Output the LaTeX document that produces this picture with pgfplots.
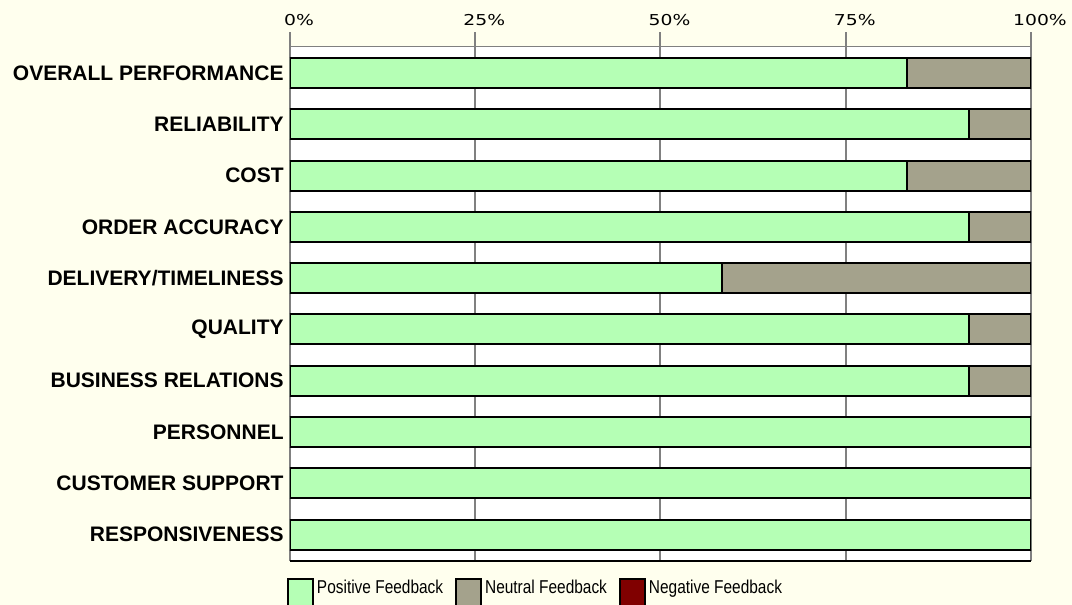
\documentclass[border=0pt]{standalone}
\usepackage{pgfplots}
\pgfplotsset{compat=1.18}
\usepackage{fontspec}
\setmainfont{Liberation Sans}
\newfontfamily\tickfont[FakeStretch=1.25]{DejaVu Sans}
\newfontfamily\legfont[FakeStretch=0.83]{Liberation Sans}
\definecolor{bgc}{RGB}{255,255,238}
\definecolor{posc}{RGB}{181,255,181}
\definecolor{neuc}{RGB}{164,162,140}
\definecolor{negc}{RGB}{128,0,0}
\definecolor{gridc}{RGB}{128,128,128}
\begin{document}
\begin{tikzpicture}
\useasboundingbox (0,0) rectangle (536pt,302.5pt);
\fill[bgc] (0,0) rectangle (536pt,302.5pt);
\clip (0,0) rectangle (536pt,302.5pt);
\begin{axis}[
  at={(145pt,22pt)}, anchor=south west,
  scale only axis, width=370.5pt, height=257.25pt,
  xbar stacked, bar width=15pt,
  xmin=0, xmax=100, ymin=-0.515, ymax=9.515,
  y dir=reverse,
  ytick={0,1,2,3,4,5,6,7,8,9},
  yticklabels={OVERALL PERFORMANCE, RELIABILITY, COST, ORDER ACCURACY, DELIVERY/TIMELINESS, QUALITY, BUSINESS RELATIONS, PERSONNEL, CUSTOMER SUPPORT, RESPONSIVENESS},
  yticklabel style={font=\fontsize{10.5}{12}\selectfont\bfseries, inner sep=0pt, xshift=4pt, anchor=east},
  ytick style={draw=none},
  xtick={0,25,50,75,100},
  xticklabels={0\%,25\%,50\%,75\%,100\%},
  xtick pos=right, xticklabel pos=right,
  tick align=outside,
  major tick length=7pt,
  xtick style={draw=gridc, line width=1pt},
  xticklabel style={font=\tickfont\fontsize{7.5}{8}\selectfont, inner sep=0pt, anchor=south, xshift=4.5pt, yshift=3pt},
  xmajorgrids, grid style={draw=gridc, line width=1pt},
  axis line style={draw=none},
  axis background/.style={fill=white},
  legend columns=3,
  legend style={draw=none, fill=none, inner sep=0pt, outer sep=0pt,
    at={(axis description cs:0,0)}, anchor=north west, xshift=-1.5pt, yshift=-8.5pt,
    font=\legfont\fontsize{9.3}{10}\selectfont, cells={anchor=base west},
    nodes={inner sep=0pt},
    /tikz/every odd column/.append style={column sep=1.5pt},
    /tikz/every even column/.append style={column sep=6pt}},
  legend image code/.code={\filldraw[#1, line width=1pt] (0pt,-14pt) rectangle (12.5pt,7.25pt);},
]
\addplot[fill=posc, draw=black, line width=1pt] coordinates {
  (83.33,0) (91.67,1) (83.33,2) (91.67,3) (58.33,4) (91.67,5) (91.67,6) (100,7) (100,8) (100,9)};
\addplot[fill=neuc, draw=black, line width=1pt] coordinates {
  (16.67,0) (8.33,1) (16.67,2) (8.33,3) (41.67,4) (8.33,5) (8.33,6) (0,7) (0,8) (0,9)};
\addplot[fill=negc, draw=black, line width=1pt] coordinates {
  (0,0) (0,1) (0,2) (0,3) (0,4) (0,5) (0,6) (0,7) (0,8) (0,9)};
\legend{Positive Feedback, Neutral Feedback, Negative Feedback}
\draw[gridc, line width=0.5pt] (axis description cs:0,1) -- (axis description cs:1,1);
\draw[black, line width=1.5pt] (axis description cs:0,0) -- (axis description cs:1,0);
\end{axis}
\end{tikzpicture}
\end{document}
